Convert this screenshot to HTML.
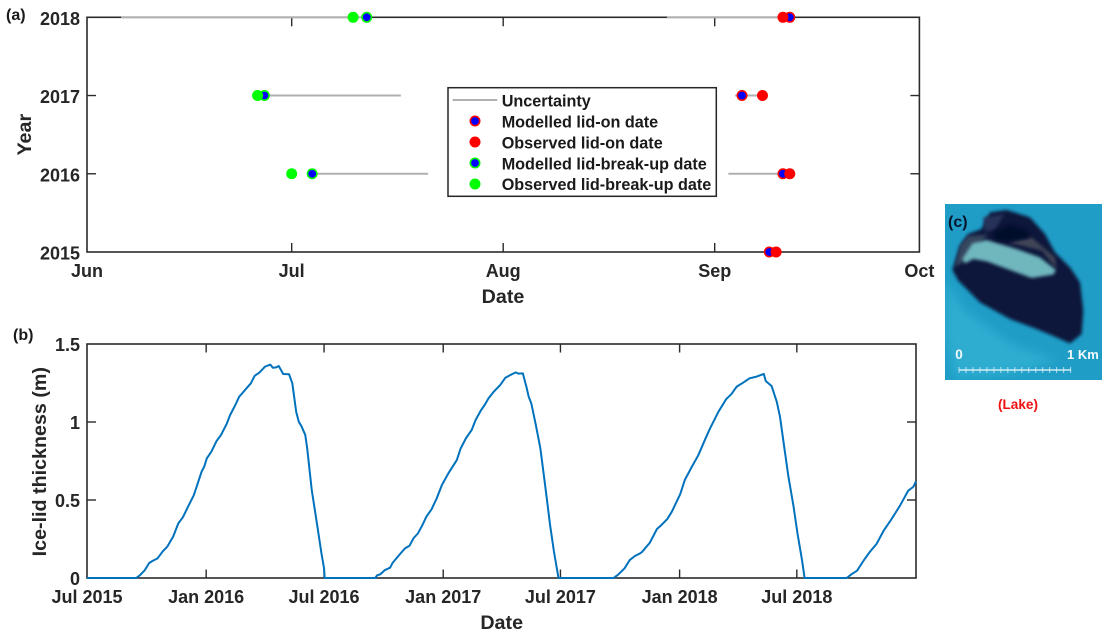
<!DOCTYPE html>
<html lang="en">
<head>
<meta charset="utf-8">
<title>Lake ice-lid dates and thickness</title>
<style>
html,body{margin:0;padding:0;background:#fff;}
body{width:1109px;height:638px;overflow:hidden;}
#fig{display:block;filter:blur(0.35px);font-family:"Liberation Sans",sans-serif;}
.tick{font-size:18px;font-weight:bold;fill:#262626;}
.axt{font-size:19.7px;font-weight:bold;fill:#262626;}
.leg{font-size:16.2px;font-weight:bold;fill:#1a1a1a;}
.pan{font-size:16px;font-weight:bold;fill:#1a1a1a;}
</style>
</head>
<body>
<svg id="fig" xmlns="http://www.w3.org/2000/svg" width="1109" height="638" viewBox="0 0 1109 638">
  <defs>
    <clipPath id="photoClip"><rect x="945" y="204" width="157" height="176"/></clipPath>
    <filter id="soft" x="-15%" y="-15%" width="130%" height="130%"><feGaussianBlur stdDeviation="5"/></filter>
    <filter id="soft2" x="-20%" y="-20%" width="140%" height="140%"><feGaussianBlur stdDeviation="14"/></filter>
  </defs>

  <g id="panelA"></g>
  <g id="panelB"></g>

  <text class="pan" x="6" y="20">(a)</text>
  <text class="pan" x="13" y="340">(b)</text>

  <g>
    <rect x="448" y="87.7" width="268.3" height="108.6" fill="#fff" stroke="#262626" stroke-width="1.5"/>
    <g>
      <line x1="452.7" x2="497.3" y1="100" y2="100" stroke="#b0b0b0" stroke-width="2"/>
      <text class="leg" x="501.7" y="106.5">Uncertainty</text>
    </g>
    <g>
      <circle cx="475" cy="121" r="4.7" fill="#00f" stroke="#f00" stroke-width="1.6"/>
      <text class="leg" x="501.7" y="127.5">Modelled lid-on date</text>
    </g>
    <g>
      <circle cx="475" cy="142" r="5.5" fill="#f00"/>
      <text class="leg" x="501.7" y="148.5">Observed lid-on date</text>
    </g>
    <g>
      <circle cx="475" cy="163" r="4.7" fill="#00f" stroke="#0f0" stroke-width="1.6"/>
      <text class="leg" x="501.7" y="169.5">Modelled lid-break-up date</text>
    </g>
    <g>
      <circle cx="475" cy="184" r="5.5" fill="#0f0"/>
      <text class="leg" x="501.7" y="190">Observed lid-break-up date</text>
    </g>
  </g>

  <g>
    <g clip-path="url(#photoClip)">
      <rect x="945" y="204" width="157" height="176" fill="#1f9dc6"/>
      <g transform="translate(945,204) scale(0.3333)">
        <polygon filter="url(#soft2)" fill="#35b4d6" opacity="0.7" points="0,230 60,320 200,420 340,470 200,510 30,520 0,400"/>
        <polygon filter="url(#soft)" fill="#07123a" points="135,25 185,18 255,40 300,90 330,145 375,190 405,235 415,320 410,390 375,418 335,400 275,375 195,345 105,295 40,230 22,198 45,125 70,90 110,75"/>
        <polygon filter="url(#soft)" fill="#35465f" points="45,125 70,95 130,92 90,130 60,170 30,190"/>
        <polygon filter="url(#soft)" fill="#27335a" points="115,40 180,30 150,75 120,85"/>
        <polygon filter="url(#soft)" fill="#3f4456" points="190,115 260,100 330,160 335,195 290,140"/>
        <polygon filter="url(#soft)" fill="#6fb6bd" points="82,118 125,108 215,135 285,160 333,198 325,212 260,222 195,198 125,172 85,165 60,178 52,165"/>
        <polygon filter="url(#soft)" fill="#050c2a" points="145,85 195,62 245,80 255,100 195,112 150,108"/>
      </g>
    </g>
    <text x="959" y="359" text-anchor="middle" font-size="13.5" font-weight="bold" fill="#f4fbfd">0</text>
    <text x="1067" y="359" font-size="13" font-weight="bold" fill="#f4fbfd">1 Km</text>
    <g id="scaleBar"></g>
    <text x="948" y="227" font-size="16" font-weight="bold" fill="#07142c">(c)</text>
  </g>
  <text x="1018" y="409" text-anchor="middle" font-size="13.6" font-weight="bold" fill="#f01010">(Lake)</text>
</svg>

<script>
// Panel (a) data: dates expressed as days since 1 June; one entry per year
const phenologyYears = [2015, 2016, 2017, 2018];
const breakUpObserved = [null, 30, 25, 39];
const breakUpModelled = [null, 33, 26, 41];
const breakUpLow = [null, 33, 26, 5];
const breakUpHigh = [null, 50, 46, 41];
const lidOnObserved = [101, 103, 99, 102];
const lidOnModelled = [100, 102, 96, 103];
const lidOnLow = [100, 94, 95, 85];
const lidOnHigh = [101, 102, 99, 103];
const monthLabels = ['Jun', 'Jul', 'Aug', 'Sep', 'Oct'];
const monthDays = [0, 30, 61, 92, 122];

// Panel (b) data: days since 1 July 2015 and ice-lid thickness in metres
const thicknessDays = [
  0,76,82,89,96,101,109,117,124,133,141,148,156,165,177,181,185,192,200,207,216,221,229,235,244,253,259,266,275,283,287,292,296,303,312,317,323,327,331,337,340,347,355,362,366,367,
  445,448,453,460,468,472,483,491,498,504,511,518,524,532,540,548,558,571,577,585,594,600,608,614,620,628,638,646,656,662,666,673,679,682,686,693,700,707,715,721,728,
  813,820,830,838,846,854,857,869,880,887,896,903,916,923,934,944,954,962,975,987,995,1003,1013,1023,1034,1045,1048,1057,1065,1070,1075,1083,1091,1097,1104,1108,
  1173,1181,1189,1199,1209,1219,1230,1242,1255,1268,1276,1280
];
const thicknessValues = [
  0,0,.019,.049,.096,.109,.126,.171,.201,.265,.350,.389,.457,.532,.682,.714,.767,.810,.878,.917,.991,1.045,1.109,1.162,1.205,1.248,1.297,1.316,1.355,1.368,1.348,1.350,1.359,1.308,1.306,1.248,1.066,1.002,.974,.917,.831,.564,.350,.158,.062,0,
  0,.017,.024,.051,.066,.098,.152,.190,.207,.254,.286,.340,.393,.440,.511,.596,.671,.756,.831,.895,.949,1.013,1.073,1.109,1.152,1.194,1.237,1.284,1.306,1.318,1.310,1.312,1.216,1.162,1.120,.981,.831,.607,.340,.169,0,
  0,.021,.062,.115,.141,.158,.167,.226,.314,.340,.378,.425,.538,.628,.714,.788,.885,.959,1.066,1.147,1.179,1.226,1.252,1.280,1.291,1.308,1.263,1.231,1.130,1.034,.885,.650,.457,.286,.115,0,
  0,.026,.047,.111,.169,.218,.303,.376,.462,.560,.585,.620
];
const thicknessTickDays = [0, 184, 366, 550, 731, 915, 1096];
const thicknessTickLabels = ['Jul 2015', 'Jan 2016', 'Jul 2016', 'Jan 2017', 'Jul 2017', 'Jan 2018', 'Jul 2018'];
const thicknessYTicks = [0, 0.5, 1, 1.5];
const thicknessYLabels = ['0', '0.5', '1', '1.5'];

const NS = 'http://www.w3.org/2000/svg';
const AXIS = '#2b2b2b';
function make(parent, tag, attrs, text) {
  const el = document.createElementNS(NS, tag);
  for (const k in attrs) el.setAttribute(k, attrs[k]);
  if (text !== undefined) el.textContent = text;
  parent.appendChild(el);
  return el;
}

// ---------- Panel (a) ----------
const A = {l: 87, r: 919.4, t: 17.3, b: 252, dMax: 122, yMin: 2015, yMax: 2018};
const ax = d => A.l + d / A.dMax * (A.r - A.l);
const ay = y => A.b - (y - A.yMin) / (A.yMax - A.yMin) * (A.b - A.t);
const pa = document.getElementById('panelA');

const frameA = make(pa, 'rect', {x: A.l, y: A.t, width: A.r - A.l, height: A.b - A.t, fill: 'none', stroke: AXIS, 'stroke-width': 1.6});



monthLabels.forEach((lab, i) => {
  const x = ax(monthDays[i]);
  if (i > 0 && i < monthLabels.length - 1) {
    const t1 = make(pa, 'line', {x1: x, x2: x, y1: A.t, y2: A.t + 9, stroke: AXIS, 'stroke-width': 1.4});
    
    
    const t2 = make(pa, 'line', {x1: x, x2: x, y1: A.b, y2: A.b - 9, stroke: AXIS, 'stroke-width': 1.4});
    
    
  }
  const tx = make(pa, 'text', {x: x, y: 277, 'text-anchor': 'middle', class: 'tick'}, lab);
  
  
});

phenologyYears.forEach(y => {
  const py = ay(y);
  if (y > A.yMin && y < A.yMax) {
    const t1 = make(pa, 'line', {x1: A.l, x2: A.l + 9, y1: py, y2: py, stroke: AXIS, 'stroke-width': 1.4});
    
    
    const t2 = make(pa, 'line', {x1: A.r, x2: A.r - 9, y1: py, y2: py, stroke: AXIS, 'stroke-width': 1.4});
    
    
  }
  const tx = make(pa, 'text', {x: 80, y: py + 7.5, 'text-anchor': 'end', class: 'tick'}, String(y));
  
  
});

const xtA = make(pa, 'text', {x: 503, y: 303, 'text-anchor': 'middle', class: 'axt'}, 'Date');


const ytA = make(pa, 'text', {transform: 'translate(31,134.7) rotate(-90)', 'text-anchor': 'middle', class: 'axt'}, 'Year');



function drawRange(lows, highs) {
  phenologyYears.forEach((y, i) => {
    if (lows[i] === null) return;
    const ln = make(pa, 'line', {x1: ax(lows[i]), x2: ax(highs[i]), y1: ay(y), y2: ay(y), stroke: '#b0b0b0', 'stroke-width': 2});
    
    
  });
}
drawRange(breakUpLow, breakUpHigh);
drawRange(lidOnLow, lidOnHigh);

function drawModelled(vals, ring, name) {
  phenologyYears.forEach((y, i) => {
    if (vals[i] === null) return;
    const c = make(pa, 'circle', {cx: ax(vals[i]), cy: ay(y), r: 4.7, fill: '#00f', stroke: ring, 'stroke-width': 1.6});
    
    
  });
}
function drawObserved(vals, color, name) {
  phenologyYears.forEach((y, i) => {
    if (vals[i] === null) return;
    const c = make(pa, 'circle', {cx: ax(vals[i]), cy: ay(y), r: 5.5, fill: color});
    
    
  });
}
drawModelled(breakUpModelled, '#0f0', 'modelled-break-up-point');
drawModelled(lidOnModelled, '#f00', 'modelled-lid-on-point');
drawObserved(breakUpObserved, '#0f0', 'observed-break-up-point');
drawObserved(lidOnObserved, '#f00', 'observed-lid-on-point');

// ---------- Panel (b) ----------
const B = {l: 87, r: 916, t: 344, b: 578, dMax: 1280, vMax: 1.5};
const bx = d => B.l + d / B.dMax * (B.r - B.l);
const by = v => B.b - v / B.vMax * (B.b - B.t);
const pb = document.getElementById('panelB');

const frameB = make(pb, 'rect', {x: B.l, y: B.t, width: B.r - B.l, height: B.b - B.t, fill: 'none', stroke: AXIS, 'stroke-width': 1.6});



thicknessTickDays.forEach((d, i) => {
  const x = bx(d);
  if (i > 0) {
    const t1 = make(pb, 'line', {x1: x, x2: x, y1: B.t, y2: B.t + 8.5, stroke: AXIS, 'stroke-width': 1.4});
    
    
    const t2 = make(pb, 'line', {x1: x, x2: x, y1: B.b, y2: B.b - 8.5, stroke: AXIS, 'stroke-width': 1.4});
    
    
  }
  const tx = make(pb, 'text', {x: x, y: 603, 'text-anchor': 'middle', class: 'tick'}, thicknessTickLabels[i]);
  
  
});

thicknessYTicks.forEach((v, i) => {
  const y = by(v);
  if (i > 0 && i < thicknessYTicks.length - 1) {
    const t1 = make(pb, 'line', {x1: B.l, x2: B.l + 9, y1: y, y2: y, stroke: AXIS, 'stroke-width': 1.4});
    
    
    const t2 = make(pb, 'line', {x1: B.r, x2: B.r - 9, y1: y, y2: y, stroke: AXIS, 'stroke-width': 1.4});
    
    
  }
  const tx = make(pb, 'text', {x: 80, y: y + 7, 'text-anchor': 'end', class: 'tick'}, thicknessYLabels[i]);
  
  
});

const xtB = make(pb, 'text', {x: 501.7, y: 629, 'text-anchor': 'middle', class: 'axt'}, 'Date');


const ytB = make(pb, 'text', {transform: 'translate(46,461.7) rotate(-90)', 'text-anchor': 'middle', class: 'axt'}, 'Ice-lid thickness (m)');



const pts = thicknessDays.map((d, i) => bx(d).toFixed(2) + ',' + by(thicknessValues[i]).toFixed(2)).join(' ');
const curve = make(pb, 'polyline', {points: pts, fill: 'none', stroke: '#0072BD', 'stroke-width': 2, 'stroke-linejoin': 'round'});



// ---------- Scale bar in the lake image ----------
const sb = document.getElementById('scaleBar');
const barLine = make(sb, 'line', {x1: 959, x2: 1070.7, y1: 370, y2: 370, stroke: '#f2fafc', 'stroke-width': 1.2});


for (let k = 0; k <= 16; k++) {
  const sx = 959 + k * (1070.7 - 959) / 16;
  const st = make(sb, 'line', {x1: sx, x2: sx, y1: 367, y2: 373, stroke: '#d8f0f5', 'stroke-width': 0.8});
  
  
}
</script>
</body>
</html>
